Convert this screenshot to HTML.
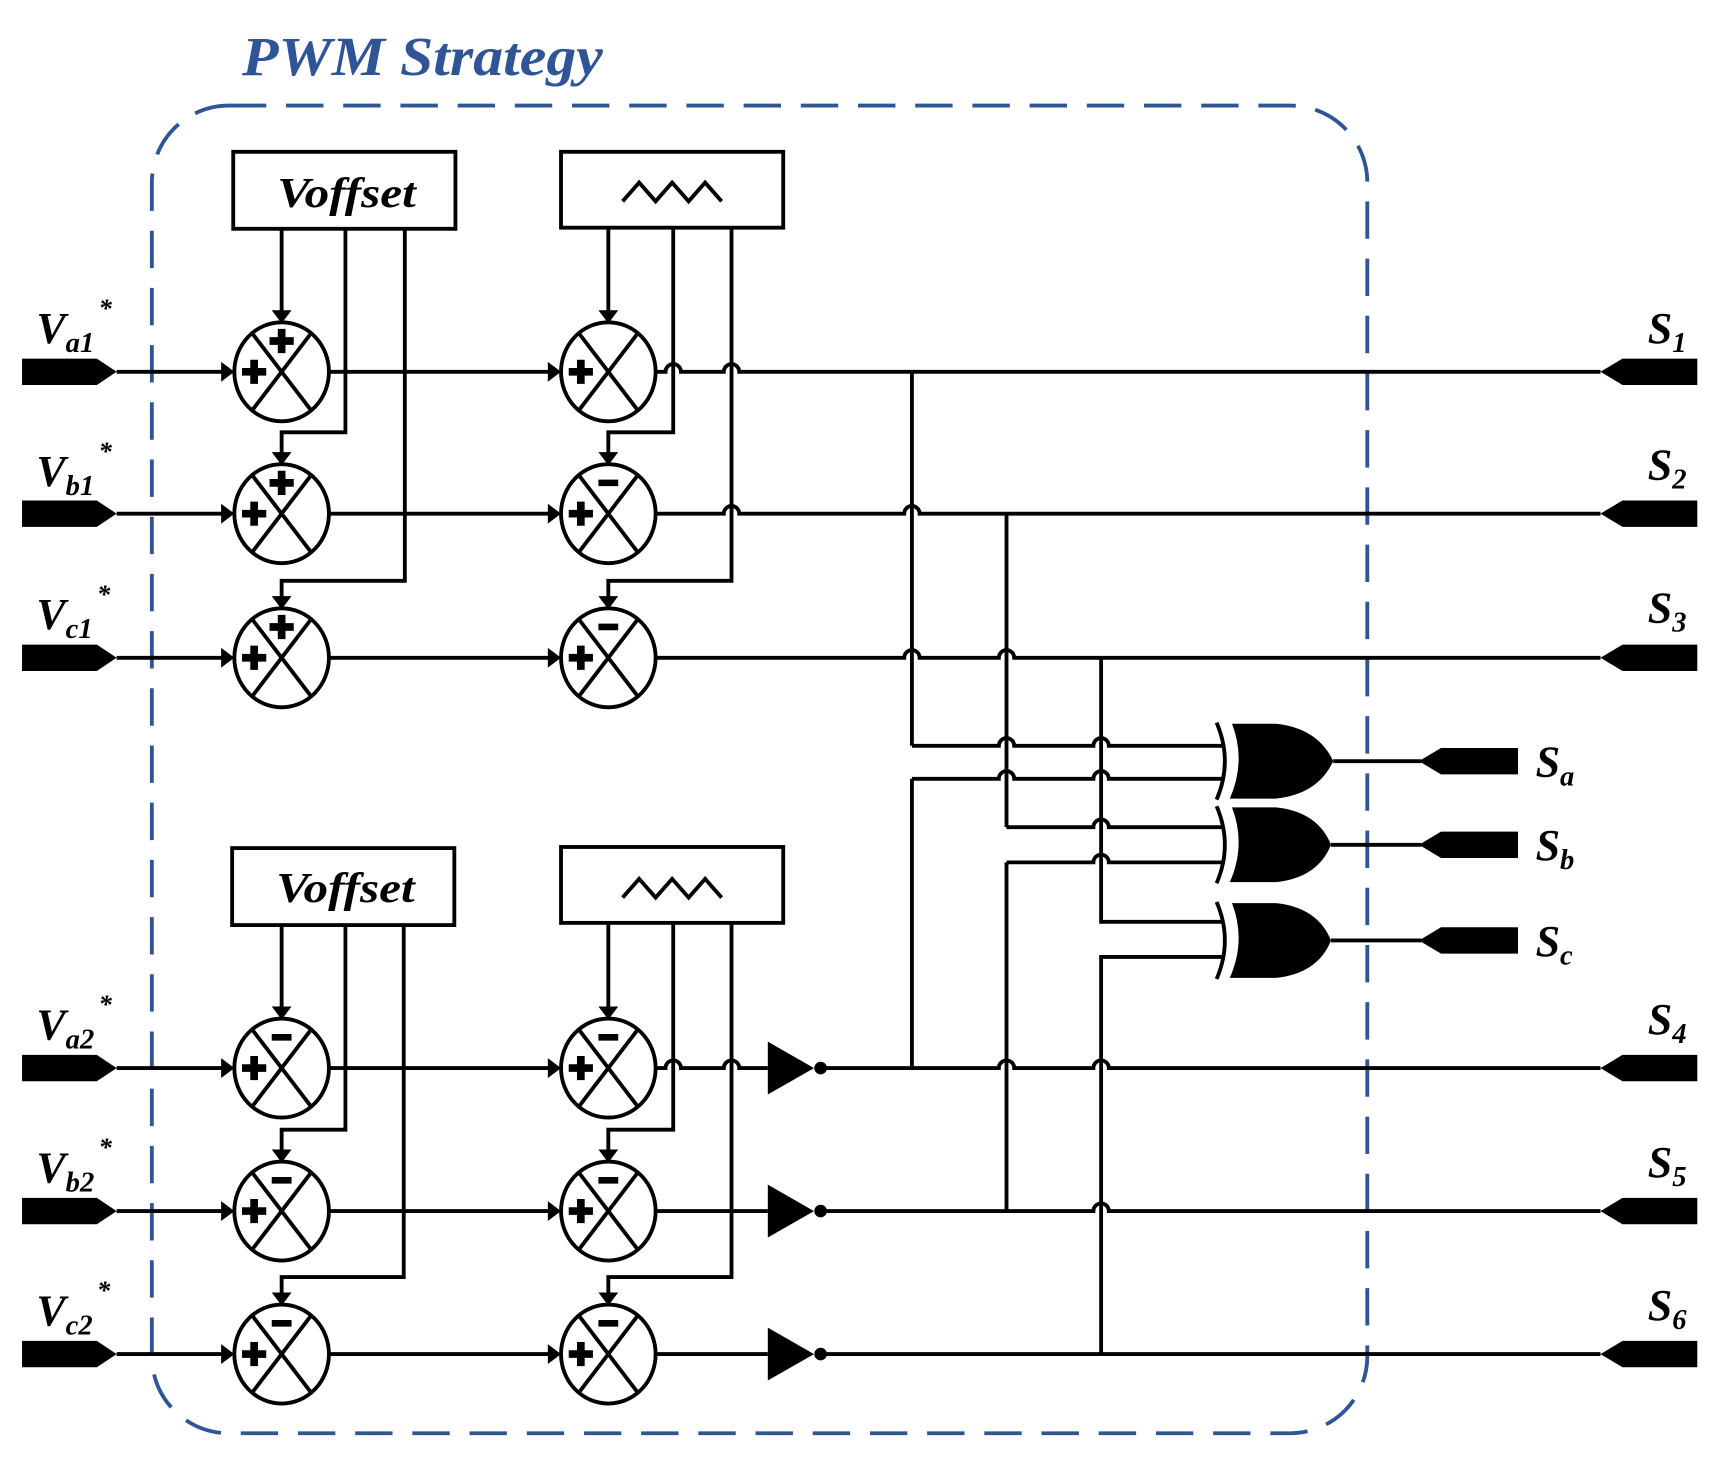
<!DOCTYPE html>
<html><head><meta charset="utf-8"><style>
html,body{margin:0;padding:0;background:#fff}
svg{display:block}
text{font-family:"Liberation Serif","Times New Roman",serif;font-weight:bold;font-style:italic}
</style></head><body>
<svg id="s" width="1720" height="1459" viewBox="0 0 1563.6 1326.4" xmlns="http://www.w3.org/2000/svg">
<rect x="0" y="0" width="1563.6" height="1326.4" fill="#fff"/>
<rect x="138" y="96" width="1105" height="1207" rx="70" fill="none" stroke="#2F5597" stroke-width="3.5" stroke-dasharray="34,18"/>
<text x="220" y="68" font-size="50" fill="#2F5597" textLength="328" lengthAdjust="spacingAndGlyphs">PWM Strategy</text>
<g id="g" stroke="#000" stroke-width="3.5" fill="none"></g>
<g font-size="40" fill="#000">
<text x="33" y="312">V<tspan font-size="26" dy="8">a1</tspan><tspan font-size="24" dy="-32" dx="4">*</tspan></text>
<text x="33" y="442">V<tspan font-size="26" dy="8">b1</tspan><tspan font-size="24" dy="-32" dx="4">*</tspan></text>
<text x="33" y="572">V<tspan font-size="26" dy="8">c1</tspan><tspan font-size="24" dy="-32" dx="4">*</tspan></text>
<text x="33" y="945">V<tspan font-size="26" dy="8">a2</tspan><tspan font-size="24" dy="-32" dx="4">*</tspan></text>
<text x="33" y="1075">V<tspan font-size="26" dy="8">b2</tspan><tspan font-size="24" dy="-32" dx="4">*</tspan></text>
<text x="33" y="1205">V<tspan font-size="26" dy="8">c2</tspan><tspan font-size="24" dy="-32" dx="4">*</tspan></text>
<text x="1498" y="312">S<tspan font-size="26" dy="8">1</tspan></text>
<text x="1498" y="436">S<tspan font-size="26" dy="8">2</tspan></text>
<text x="1498" y="566">S<tspan font-size="26" dy="8">3</tspan></text>
<text x="1498" y="940">S<tspan font-size="26" dy="8">4</tspan></text>
<text x="1498" y="1070">S<tspan font-size="26" dy="8">5</tspan></text>
<text x="1498" y="1200">S<tspan font-size="26" dy="8">6</tspan></text>
<text x="1396" y="706">S<tspan font-size="26" dy="8">a</tspan></text>
<text x="1396" y="782">S<tspan font-size="26" dy="8">b</tspan></text>
<text x="1396" y="869">S<tspan font-size="26" dy="8">c</tspan></text>
<text x="252" y="188" font-size="38" textLength="126" lengthAdjust="spacingAndGlyphs">Voffset</text>
<text x="251" y="820" font-size="38" textLength="126" lengthAdjust="spacingAndGlyphs">Voffset</text>
</g>
</svg>
<script>
var g=document.getElementById('g'),h='';
function P(d,f){h+='<path d="'+d+'"'+(f?' fill="#000" stroke="none"':'')+'/>';}
function arrR(x,y){P('M'+(x-12)+','+(y-9)+'L'+x+','+y+'L'+(x-12)+','+(y+9)+'Z',1);}
function arrD(x,y){P('M'+(x-9)+','+(y-12)+'L'+x+','+y+'L'+(x+9)+','+(y-12)+'Z',1);}
function hline(x1,x2,y,hops){var d='M'+x1+','+y;(hops||[]).forEach(function(x){d+='L'+(x-7)+','+y+'A7,7 0 0 1 '+(x+7)+','+y;});d+='L'+x2+','+y;P(d);}
function summer(x,y,top){h+='<ellipse cx="'+x+'" cy="'+y+'" rx="43" ry="45"/>';
 var k=30;P('M'+(x-k+4)+','+(y-k-4)+'L'+(x+k-4)+','+(y+k+4)+'M'+(x+k-4)+','+(y-k-4)+'L'+(x-k+4)+','+(y+k+4));
 plus(x-25,y);if(top=='+')plus(x,y-28);else if(top=='-')P('M'+(x-9)+','+(y-31)+'h18v6h-18z',1);}
function plus(x,y){P('M'+(x-3.5)+','+(y-11)+'h7v7.5h7.5v7h-7.5v7.5h-7v-7.5h-7.5v-7h7.5z',1);}
function inConn(y){P('M20,'+(y-12)+'H88L106,'+y+'L88,'+(y+12)+'H20Z',1);}
function outConn(x,y,w){P('M'+x+','+y+'L'+(x+20)+','+(y-12)+'H'+(x+w)+'V'+(y+12)+'H'+(x+20)+'Z',1);}
var rows=[338,467,598,971,1101,1231],tops=['+','+','+','-','-','-'],tops2=['','-','-','-','-','-'];
h+='<rect x="212" y="138" width="202" height="70"/><rect x="510" y="138" width="202" height="69"/>';
h+='<rect x="211" y="771" width="202" height="70"/><rect x="510" y="770" width="202" height="69"/>';
P('M566,183l15,-17l15,17l15,-17l15,17l15,-17l15,17');
P('M566,816l15,-17l15,17l15,-17l15,17l15,-17l15,17');
function feeds(base,x0,xa,xb,bt){var r0=rows[base],r1=rows[base+1],r2=rows[base+2];
 P('M'+x0+','+bt+'V'+(r0-47));arrD(x0,r0-44);
 P('M'+xa+','+bt+'V'+(r1-74)+'H'+x0+'V'+(r1-47));arrD(x0,r1-44);
 P('M'+xb+','+bt+'V'+(r2-70)+'H'+x0+'V'+(r2-47));arrD(x0,r2-44);}
feeds(0,256,314,368,208);feeds(0,553,612,665,207);
feeds(3,256,314,367,841);feeds(3,553,612,665,839);
rows.forEach(function(y,i){inConn(y);P('M106,'+y+'H210');arrR(213,y);summer(256,y,tops[i]);
 P('M299,'+y+'H507');arrR(510,y);summer(553,y,tops2[i]);});
hline(596,1455,338,[612,665]);
hline(596,1455,467,[665,829]);
hline(596,1455,598,[829,915]);
hline(596,698,971,[612,665]);hline(746,1455,971,[915,1001]);
P('M596,1101H698');hline(746,1455,1101,[1001]);
P('M596,1231H698M746,1231H1455');
[971,1101,1231].forEach(function(y){P('M698,'+(y-24)+'L740,'+y+'L698,'+(y+24)+'Z',1);h+='<circle cx="746" cy="'+y+'" r="4" fill="#000"/>';});
rows.forEach(function(y){outConn(1455,y,88);});
P('M829,338V678');hline(829,1112,678,[915,1001]);
P('M829,971V708');hline(829,1112,708,[915,1001]);
P('M915,467V752');hline(915,1112,752,[1001]);
P('M915,1101V784');hline(915,1112,784,[1001]);
P('M1001,598V838H1112');
P('M1001,1231V870H1112');
[[692,1212],[768,1210],[855,1210]].forEach(function(a){var c=a[0],xe=a[1];
 P('M1120,'+(c-34)+'L1160,'+(c-34)+'Q1198,'+(c-30)+' '+xe+','+c+'Q1198,'+(c+30)+' 1160,'+(c+34)+'L1118,'+(c+34)+'Q1133,'+c+' 1120,'+(c-34)+'Z',1);
 P('M1106,'+(c-35)+'Q1121,'+c+' 1106,'+(c+35));
 P('M'+xe+','+c+'H1292');outConn(1290,c,90);});
g.innerHTML=h;
</script>
</body></html>
